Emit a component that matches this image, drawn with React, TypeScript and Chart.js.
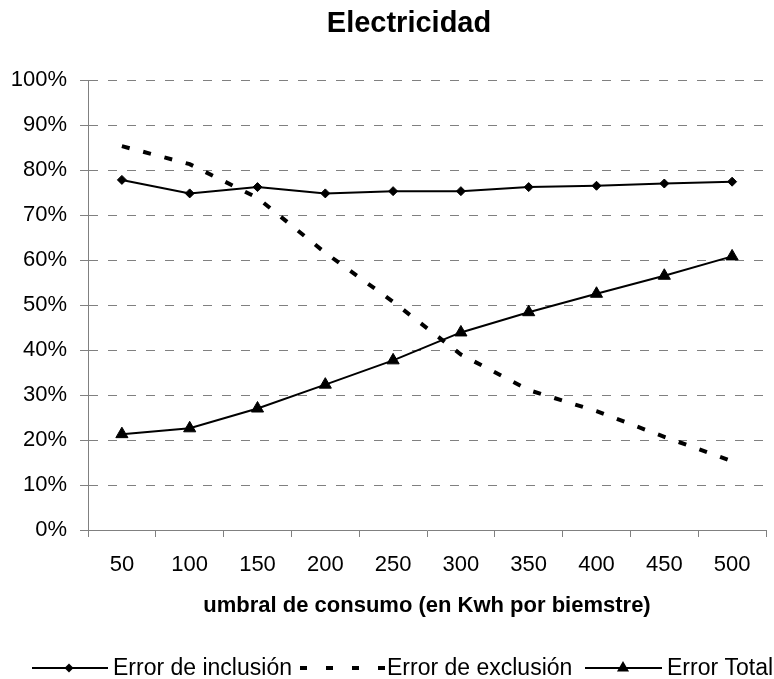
import React, { useEffect, useRef } from 'react';
import { Chart, registerables } from 'chart.js';

Chart.register(...registerables);

const FONT = '"Liberation Sans", Arial, Helvetica, sans-serif';

const categories = ['50', '100', '150', '200', '250', '300', '350', '400', '450', '500'];
const inclusion = [77.8, 74.8, 76.2, 74.8, 75.3, 75.3, 76.2, 76.5, 77.0, 77.4];
const exclusion = [85.3, 81.3, 73.8, 61.6, 50.7, 39.0, 31.1, 26.4, 20.7, 15.3];
const total = [21.3, 22.6, 27.0, 32.3, 37.7, 43.9, 48.4, 52.5, 56.5, 60.8];
const seriesNames = ['Error de inclusión', 'Error de exclusión', 'Error Total'];
const titleText = 'Electricidad';
const xTitleText = 'umbral de consumo (en Kwh por biemstre)';

const titlePlugin = {
  id: 'customTitle',
  afterDraw(chart: any) {
    const ctx: CanvasRenderingContext2D = chart.ctx;
    ctx.save();
    ctx.fillStyle = '#000';
    ctx.font = `bold 29px ${FONT}`;
    ctx.textAlign = 'center';
    ctx.textBaseline = 'middle';
    ctx.fillText(titleText, 409, 24);
    ctx.restore();
  },
};

const legendPlugin = {
  id: 'customLegend',
  afterDraw(chart: any) {
    const ctx: CanvasRenderingContext2D = chart.ctx;
    const y = 668;
    ctx.save();
    ctx.strokeStyle = '#000';
    ctx.fillStyle = '#000';
    ctx.font = `23px ${FONT}`;
    ctx.textBaseline = 'middle';
    ctx.textAlign = 'left';

    // item 1: solid line with diamond
    ctx.lineWidth = 2;
    ctx.setLineDash([]);
    ctx.beginPath();
    ctx.moveTo(32, y);
    ctx.lineTo(108, y);
    ctx.stroke();
    ctx.beginPath();
    const d = 4.5;
    ctx.moveTo(69 - d, y);
    ctx.lineTo(69, y - d);
    ctx.lineTo(69 + d, y);
    ctx.lineTo(69, y + d);
    ctx.closePath();
    ctx.fill();
    ctx.fillText(seriesNames[0], 113, y + 1);

    // item 2: dashed
    ctx.lineWidth = 4;
    ctx.lineCap = 'butt';
    ctx.setLineDash([7, 19]);
    ctx.beginPath();
    ctx.moveTo(300, y);
    ctx.lineTo(385, y);
    ctx.stroke();
    ctx.setLineDash([]);
    ctx.fillText(seriesNames[1], 387, y + 1);

    // item 3: solid line with triangle
    ctx.lineWidth = 2;
    ctx.beginPath();
    ctx.moveTo(585, y);
    ctx.lineTo(662, y);
    ctx.stroke();
    const r = 7;
    ctx.beginPath();
    ctx.moveTo(623, y - r);
    ctx.lineTo(623 + r * 0.866, y + r * 0.5);
    ctx.lineTo(623 - r * 0.866, y + r * 0.5);
    ctx.closePath();
    ctx.fill();
    ctx.fillText(seriesNames[2], 667, y + 1);
    ctx.restore();
  },
};

export default function App() {
  const ref = useRef<HTMLCanvasElement | null>(null);

  useEffect(() => {
    document.body.style.margin = '0';
    const canvas = ref.current;
    if (!canvas) return;
    const chart = new Chart(canvas, {
      type: 'line',
      data: {
        labels: categories,
        datasets: [
          {
            label: seriesNames[0],
            data: inclusion,
            borderColor: '#000',
            backgroundColor: '#000',
            borderWidth: 2,
            pointStyle: 'rectRot',
            pointRadius: 4.5,
            pointBorderWidth: 1,
            pointBackgroundColor: '#000',
            pointBorderColor: '#000',
            tension: 0,
            fill: false,
          },
          {
            label: seriesNames[1],
            data: exclusion,
            borderColor: '#000',
            backgroundColor: '#000',
            borderWidth: 4,
            borderDash: [8, 14],
            borderCapStyle: 'butt',
            pointRadius: 0,
            tension: 0,
            fill: false,
          },
          {
            label: seriesNames[2],
            data: total,
            borderColor: '#000',
            backgroundColor: '#000',
            borderWidth: 2,
            pointStyle: 'triangle',
            pointRadius: 7,
            pointBorderWidth: 1,
            pointBackgroundColor: '#000',
            pointBorderColor: '#000',
            tension: 0,
            fill: false,
          },
        ],
      },
      options: {
        responsive: false,
        animation: false,
        layout: { padding: { top: 80, left: 0, right: 0, bottom: 45 } },
        plugins: {
          legend: { display: false },
          tooltip: { enabled: false },
          title: { display: false },
        },
        scales: {
          x: {
            type: 'category',
            offset: true,
            grid: {
              display: true,
              drawOnChartArea: false,
              drawTicks: true,
              tickLength: 7,
              offset: true,
              color: '#808080',
              lineWidth: 1,
            },
            border: { display: true, color: '#808080', width: 1 },
            ticks: {
              color: '#000',
              font: { family: FONT, size: 22 },
              padding: 15,
              maxRotation: 0,
              autoSkip: false,
            },
            title: {
              display: true,
              text: xTitleText,
              color: '#000',
              font: { family: FONT, size: 22, weight: 'bold' },
              padding: { top: 0, bottom: 14.8 },
            },
            afterFit(scale: any) {
              scale.height = 104;
            },
          },
          y: {
            min: 0,
            max: 100,
            grid: {
              color: '#808080',
              lineWidth: 1,
              tickLength: 8,
              drawTicks: true,
            },
            border: { display: true, color: '#808080', width: 1, dash: [9, 10] },
            ticks: {
              stepSize: 10,
              color: '#000',
              font: { family: FONT, size: 22 },
              padding: 13,
              callback: (v: any) => `${v}%`,
            },
            afterFit(scale: any) {
              scale.width = 88;
            },
          },
        },
      },
      plugins: [titlePlugin, legendPlugin],
    });
    return () => chart.destroy();
  }, []);

  return (
    <div style={{ position: 'absolute', left: 0, top: 0, width: 774, height: 679, background: '#fff' }}>
      <canvas ref={ref} width={774} height={679} style={{ display: 'block', width: 774, height: 679 }} />
    </div>
  );
}
